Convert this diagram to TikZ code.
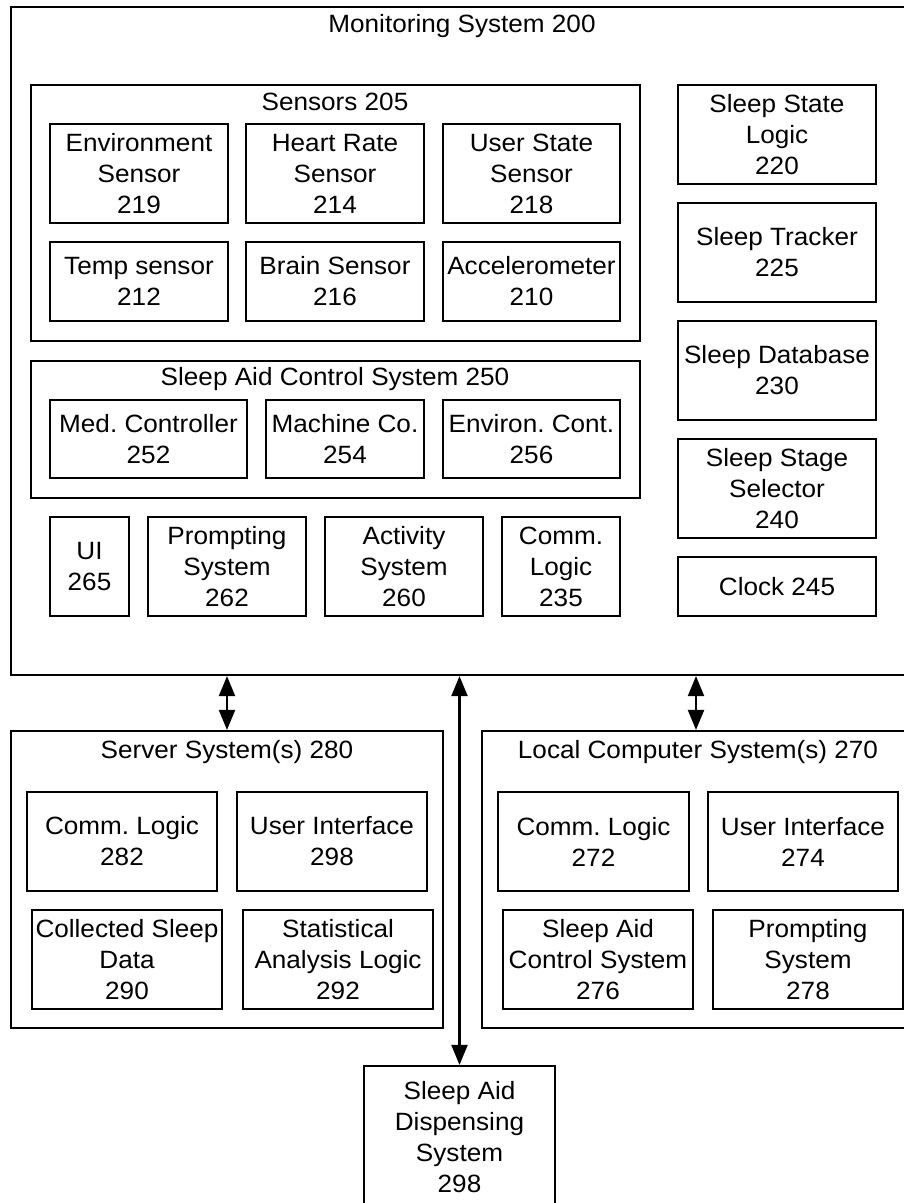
\documentclass[tikz,border=0pt]{standalone}
\usepackage{fontspec}
\setmainfont{Liberation Sans}[FakeStretch=1.045]
\usetikzlibrary{arrows.meta}
\begin{document}
\frenchspacing
\begin{tikzpicture}[x=1pt,y=-1pt,
  every node/.style={font=\fontsize{25}{31}\selectfont},
  box/.style={draw=black,line width=2.2pt,inner sep=0pt,align=center},
  ttl/.style={anchor=base,inner sep=0pt},
  arr/.style={line width=2.2pt,{Triangle[length=20pt,width=16pt]}-{Triangle[length=20pt,width=16pt]}}]
\useasboundingbox[fill=white] (0,0) rectangle (904,1203);
\begin{scope}
\clip (0,0) rectangle (904,1203);
% Monitoring system
\node[box,minimum width=899,minimum height=668] (mon) at (460.5,341) {};
\node[ttl] (mont) at (462,32) {Monitoring System 200};
% Sensors
\node[box,minimum width=609,minimum height=256] (sen) at (335.5,213) {};
\node[ttl] (sent) at (335,110) {Sensors 205};
\node[box,minimum width=178,minimum height=99] (env) at (139,173.5) {Environment\\Sensor\\219};
\node[box,minimum width=178,minimum height=99] (hr) at (335,173.5) {Heart Rate\\Sensor\\214};
\node[box,minimum width=177,minimum height=99] (us) at (531.5,173.5) {User State\\Sensor\\218};
\node[box,minimum width=178,minimum height=79] (tmp) at (139,281.5) {Temp sensor\\212};
\node[box,minimum width=178,minimum height=79] (brn) at (335,281.5) {Brain Sensor\\216};
\node[box,minimum width=177,minimum height=79] (acc) at (531.5,281.5) {Accelerometer\\210};
% right column
\node[box,minimum width=198,minimum height=99] (ssl) at (777,134.5) {Sleep State\\Logic\\220};
\node[box,minimum width=198,minimum height=99] (st) at (777,252.5) {Sleep Tracker\\225};
\node[box,minimum width=198,minimum height=99] (sdb) at (777,370.5) {Sleep Database\\230};
\node[box,minimum width=198,minimum height=99] (sss) at (777,488.5) {Sleep Stage\\Selector\\240};
\node[box,minimum width=198,minimum height=59] (clk) at (777,586.5) {Clock 245};
% Sleep aid control
\node[box,minimum width=609,minimum height=137] (sac) at (335.5,429.5) {};
\node[ttl] (sact) at (335,385) {Sleep Aid Control System 250};
\node[box,minimum width=197,minimum height=78] (med) at (148.5,439) {Med. Controller\\252};
\node[box,minimum width=158,minimum height=78] (mach) at (345,439) {Machine Co.\\254};
\node[box,minimum width=177,minimum height=78] (envc) at (531.5,439) {Environ. Cont.\\256};
% bottom row
\node[box,minimum width=79,minimum height=99] (ui) at (89.5,566.5) {UI\\265};
\node[box,minimum width=158,minimum height=99] (prm) at (227,566.5) {Prompting\\System\\262};
\node[box,minimum width=158,minimum height=99] (act) at (404,566.5) {Activity\\System\\260};
\node[box,minimum width=118,minimum height=99] (com) at (561,566.5) {Comm.\\Logic\\235};
% Server
\node[box,minimum width=432,minimum height=297] (srv) at (227,879.5) {};
\node[ttl] (srvt) at (227,758) {Server System(s) 280};
\node[box,minimum width=190,minimum height=99] (c282) at (122,841.5) {Comm. Logic\\282};
\node[box,minimum width=190,minimum height=99] (u298) at (332,841.5) {User Interface\\298};
\node[box,minimum width=190,minimum height=99] (d290) at (127,959.5) {Collected Sleep\\Data\\290};
\node[box,minimum width=190,minimum height=99] (s292) at (338,959.5) {Statistical\\Analysis Logic\\292};
% Local
\node[box,minimum width=428,minimum height=297] (loc) at (696,879.5) {};
\node[ttl] (loct) at (698,758) {Local Computer System(s) 270};
\node[box,minimum width=191,minimum height=99] (c272) at (593.5,841.5) {Comm. Logic\\272};
\node[box,minimum width=190,minimum height=99] (u274) at (803,841.5) {User Interface\\274};
\node[box,minimum width=190,minimum height=99] (s276) at (598,959.5) {Sleep Aid\\Control System\\276};
\node[box,minimum width=190,minimum height=99] (p278) at (808,959.5) {Prompting\\System\\278};
% Dispensing
\node[box,minimum width=191,minimum height=142] (disp) at (459.5,1137) {Sleep Aid\\Dispensing\\System\\298};
% arrows
\draw[arr] (srv.north |- mon.south) -- (srv.north);
\draw[arr] (disp.north |- mon.south) -- (disp.north);
\draw[arr] (loc.north |- mon.south) -- (loc.north);
\end{scope}
\end{tikzpicture}
\end{document}
